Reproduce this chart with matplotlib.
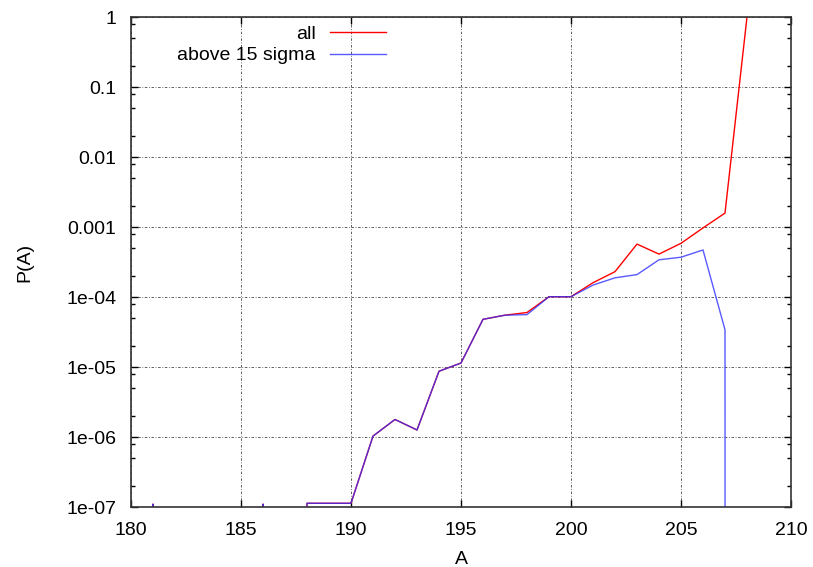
import matplotlib
matplotlib.use("Agg")
import matplotlib.pyplot as plt
from matplotlib.ticker import FixedLocator, LogLocator, NullFormatter
import numpy as np

plt.rcParams['font.family'] = ['Liberation Sans', 'DejaVu Sans']

# mass number A and probabilities P(A); 0 = empty bin
mass = list(range(180, 209))
p_all = [0, 1.1e-7, 0, 0, 0, 0, 1.1e-7, 0, 1.13e-7, 1.13e-7, 1.13e-7,
         1.03e-6, 1.78e-6, 1.26e-6, 8.7e-6, 1.14e-5, 4.8e-5, 5.5e-5, 6.0e-5,
         1.01e-4, 1.01e-4, 1.6e-4, 2.3e-4, 5.7e-4, 4.1e-4, 5.85e-4, 9.7e-4,
         1.58e-3, 1.0]
p_above = [0, 1.1e-7, 0, 0, 0, 0, 1.1e-7, 0, 1.13e-7, 1.13e-7, 1.13e-7,
           1.03e-6, 1.78e-6, 1.26e-6, 8.7e-6, 1.14e-5, 4.8e-5, 5.5e-5, 5.6e-5,
           1.01e-4, 1.01e-4, 1.48e-4, 1.88e-4, 2.09e-4, 3.4e-4, 3.7e-4, 4.7e-4,
           3.4e-5, 0]

xticks = [180, 185, 190, 195, 200, 205, 210]
yticks = [1e-7, 1e-6, 1e-5, 1e-4, 1e-3, 1e-2, 1e-1, 1]
ytick_labels = ['1e-07', '1e-06', '1e-05', '1e-04', '0.001', '0.01', '0.1', '1']

fig = plt.figure(figsize=(8.13, 5.67), dpi=100)
ax = fig.add_axes([131 / 813, 1 - 507 / 567, 660 / 813, 490 / 567])

ax.plot(mass, p_all, color='#ff0000', lw=1.0, label='all')
ax.plot(mass, p_above, color='#3030ff', lw=1.0, alpha=0.8, label='above 15 sigma')

ax.set_yscale('log', nonpositive='clip')
ax.set_xlim(180, 210)
ax.set_ylim(1e-7, 1)

ax.xaxis.set_major_locator(FixedLocator(xticks))
ax.set_xticklabels([str(t) for t in xticks])
ax.yaxis.set_major_locator(FixedLocator(yticks))
ax.set_yticklabels(ytick_labels)
ax.yaxis.set_minor_locator(LogLocator(base=10, subs=(2, 5, 8)))
ax.yaxis.set_minor_formatter(NullFormatter())

ax.tick_params(which='both', direction='in', top=True, right=True,
               labelsize=14, colors='black')
ax.tick_params(which='major', length=5, width=1, pad=10.5)
ax.tick_params(which='minor', length=3, width=1)
for s in ax.spines.values():
    s.set_linewidth(1.2)
    s.set_color('#333333')

ax.grid(True, which='major', color='#444444', lw=0.6, linestyle=(0, (3, 2, 1, 2)))

ax.set_xlabel('A', fontsize=14, labelpad=9)
ax.set_ylabel('P(A)', fontsize=14, labelpad=24)

ax.legend(loc='upper right', bbox_to_anchor=(386 / 813, 1 - 25 / 567),
          bbox_transform=fig.transFigure, frameon=False,
          markerfirst=False, fontsize=14, handlelength=2.9,
          handletextpad=0.72, labelspacing=0.22, borderaxespad=0, borderpad=0)

fig.savefig('out.png', dpi=100)
